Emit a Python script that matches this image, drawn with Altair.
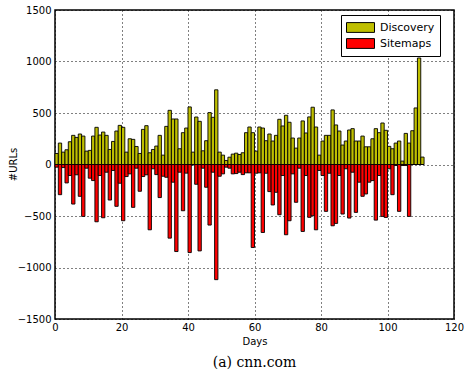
import altair as alt
import pandas as pd

days = list(range(111))
discovery = [107, 208, 120, 143, 221, 283, 263, 296, 276, 130, 137, 276, 361, 286, 315, 283, 146, 224, 325, 380,
             361, 120, 250, 244, 175, 107, 341, 377, 114, 146, 179, 283, 91, 370, 526, 442, 442, 153, 309, 354,
             559, 120, 461, 419, 133, 231, 504, 458, 725, 120, 91, 39, 71, 101, 110, 97, 114, 309, 364, 309,
             130, 364, 354, 231, 296, 228, 283, 439, 374, 478, 410, 257, 159, 257, 423, 306, 462, 556, 364, 91,
             228, 283, 283, 530, 384, 325, 189, 228, 335, 348, 228, 228, 276, 172, 172, 250, 348, 309, 403, 332,
             176, 153, 208, 228, 33, 302, 208, 328, 549, 1034, 72]
sitemaps = [-26, -293, -30, -179, -107, -384, -100, -309, -504, -36, -133, -156, -556, -107, -517, -75, -345, -58, -406, -182,
            -546, -117, -91, -416, -36, -260, -117, -100, -634, -42, -98, -321, -114, -124, -715, -172, -845, -75, -449, -84,
            -855, -5, -192, -839, -36, -221, -588, -75, -1118, -114, -91, -26, -36, -91, -88, -75, -98, -81, -81, -806,
            -85, -81, -660, -85, -263, -393, -270, -488, -107, -682, -546, -91, -367, -36, -650, -107, -513, -497, -634, -58,
            -107, -455, -85, -595, -572, -107, -481, -42, -520, -75, -465, -172, -309, -286, -172, -156, -540, -107, -504, -514,
            -42, -293, -10, -455, -10, -10, -504, 0, 0, 0, 0]
series_names = ["Discovery", "Sitemaps"]
series_colors = ["#bfbf00", "#ff0000"]
x_ticks = [0, 20, 40, 60, 80, 100, 120]
y_ticks = [-1500, -1000, -500, 0, 500, 1000, 1500]

rows = []
for d, a, b in zip(days, discovery, sitemaps):
    rows.append({"day": d, "end": d + 1, "series": "Discovery", "value": a})
    rows.append({"day": d, "end": d + 1, "series": "Sitemaps", "value": b})
df = pd.DataFrame(rows)

rect_path = "M-1,-0.7 L3,-0.7 L3,0.7 L-1,0.7 Z"

chart = alt.Chart(df).mark_bar(stroke="black", strokeWidth=0.9).encode(
    x=alt.X("day:Q",
            scale=alt.Scale(domain=[0, 120], nice=False, zero=False),
            axis=alt.Axis(values=x_ticks, title="Days", grid=True, gridDash=[1, 3],
                          gridColor="black", gridOpacity=1, domain=False, ticks=False,
                          format="d",
                          labelFont="DejaVu Sans", labelFontSize=10, labelColor="black",
                          titleFont="DejaVu Sans", titleFontSize=10, titleFontWeight="normal",
                          titleColor="black", labelPadding=3, titlePadding=4,
                          labelFlush=False)),
    x2="end:Q",
    y=alt.Y("value:Q", stack=None,
            scale=alt.Scale(domain=[-1500, 1500], nice=False),
            axis=alt.Axis(values=y_ticks, title="#URLs", grid=True, gridDash=[1, 3],
                          gridColor="black", gridOpacity=1, domain=False, ticks=False,
                          format="d",
                          labelFont="DejaVu Sans", labelFontSize=10, labelColor="black",
                          titleFont="DejaVu Sans", titleFontSize=10, titleFontWeight="normal",
                          titleColor="black", labelPadding=4, titleX=-37, titleY=154,
                          labelFlush=False)),
    y2=alt.datum(0),
    color=alt.Color("series:N",
                    scale=alt.Scale(domain=series_names, range=series_colors),
                    legend=alt.Legend(title=None, orient="none", legendX=286, legendY=5,
                                      symbolType=rect_path, symbolSize=196,
                                      symbolStrokeColor="black", symbolStrokeWidth=1,
                                      symbolOpacity=1,
                                      labelFont="DejaVu Sans", labelFontSize=11,
                                      labelColor="black",
                                      strokeColor="black", fillColor="white",
                                      padding=5, rowPadding=1, labelOffset=19)),
).properties(
    width=399,
    height=309,
    title=alt.TitleParams("(a) cnn.com", orient="bottom", anchor="middle",
                          font="DejaVu Serif", fontSize=14, fontWeight="normal",
                          color="black", offset=10),
).configure_view(
    stroke="black", strokeWidth=1.5
).properties(
    autosize=alt.AutoSizeParams(type="none"),
    padding={"left": 55, "top": 10, "right": 12, "bottom": 57},
    background="white",
)

chart.save("out.html", embed_options={"renderer": "svg", "actions": False})
